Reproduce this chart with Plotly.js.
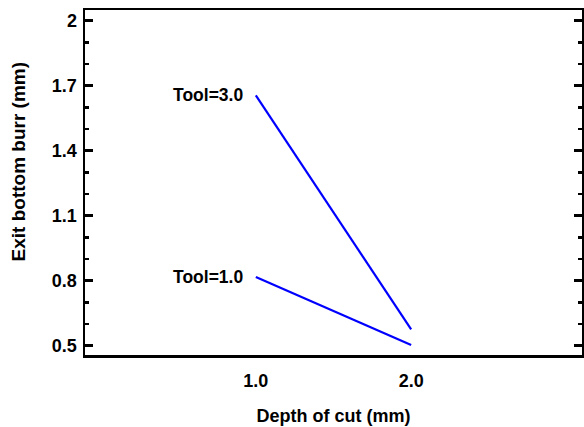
<!DOCTYPE html>
<html>
<head>
<meta charset="utf-8">
<script src="https://cdn.plot.ly/plotly-3.0.1.min.js"></script>
<style>html,body{margin:0;padding:0;background:#fff;}#chart{width:584px;height:427px;}</style>
</head>
<body>
<div id="chart"></div>
<script>
const depth = [1.0, 2.0];
const tool3 = [1.655, 0.575];
const tool1 = [0.817, 0.503];
const seriesNames = ["Tool=3.0", "Tool=1.0"];
const xTickVals = [1.0, 2.0];
const xTickText = ["1.0", "2.0"];
const yTickVals = [0.5, 0.8, 1.1, 1.4, 1.7, 2.0];
const yTickText = ["0.5", "0.8", "1.1", "1.4", "1.7", "2"];
const xTitle = "Depth of cut (mm)";
const yTitle = "Exit bottom burr (mm)";

const fam = "Liberation Sans, Arial, sans-serif";
const font = {family: fam, size: 18, color: "#000"};
const lineStyle = {color: "#0000ff", width: 2.2};
const bold = s => "<b>" + s + "</b>";

const traces = [
  {x: depth, y: tool3, mode: "lines", line: lineStyle, name: seriesNames[0], hoverinfo: "none"},
  {x: depth, y: tool1, mode: "lines", line: lineStyle, name: seriesNames[1], hoverinfo: "none"}
];

const annotations = [
  {x: depth[0], y: tool3[0], text: bold(seriesNames[0]), showarrow: false, xanchor: "right", yanchor: "middle", xshift: -11, font: {family: fam, size: 17.5, color: "#000"}},
  {x: depth[0], y: tool1[0], text: bold(seriesNames[1]), showarrow: false, xanchor: "right", yanchor: "middle", xshift: -11, font: {family: fam, size: 17.5, color: "#000"}},
  {x: 0, xref: "paper", y: 0.561, yref: "paper", xshift: -67, xanchor: "center", yanchor: "middle", textangle: -90, showarrow: false, text: bold(yTitle), font: {family: fam, size: 19, color: "#000"}}
];

const layout = {
  width: 584, height: 427,
  margin: {l: 85, r: 2, t: 10, b: 72},
  paper_bgcolor: "#fff", plot_bgcolor: "#fff",
  showlegend: false,
  font: font,
  xaxis: {
    range: [-0.1, 3.1],
    tickvals: xTickVals, ticktext: xTickText.map(bold),
    ticks: "", showgrid: false, zeroline: false,
    showline: true, linecolor: "#000", linewidth: 2.5, mirror: true,
    tickfont: {family: fam, size: 18, color: "#000", weight: "bold"},
    ticklabelstandoff: 8,
    title: {text: bold(xTitle), font: {family: fam, size: 18, color: "#000"}, standoff: 20}
  },
  yaxis: {
    range: [0.457, 2.049],
    tickvals: yTickVals, ticktext: yTickText.map(bold),
    ticks: "inside", ticklen: 8, tickwidth: 2.5, tickcolor: "#000",
    minor: {dtick: 0.1, tick0: 0.5, ticks: "inside", ticklen: 4, tickwidth: 2.5, tickcolor: "#000", showgrid: false},
    showgrid: false, zeroline: false,
    showline: true, linecolor: "#000", linewidth: 2.5, mirror: "allticks",
    tickfont: {family: fam, size: 18, color: "#000", weight: "bold"},
    ticklabelstandoff: 2
  },
  annotations: annotations
};

Plotly.newPlot("chart", traces, layout, {staticPlot: true, displayModeBar: false});
</script>
</body>
</html>
